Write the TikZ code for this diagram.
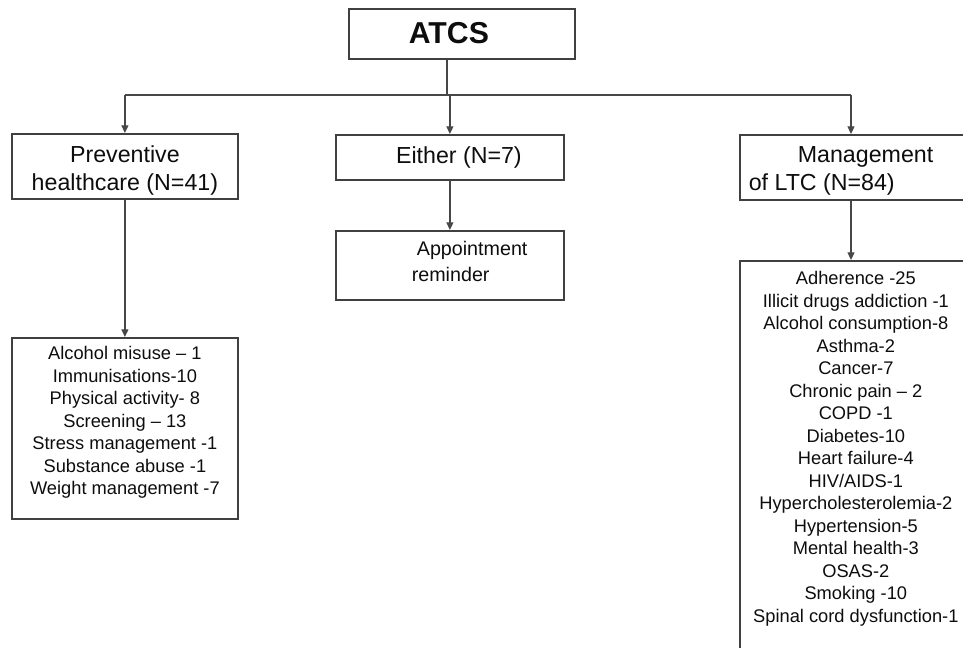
\documentclass[tikz,border=0pt]{standalone}
\usepackage{fontspec}
\setmainfont{Liberation Sans}
\usetikzlibrary{arrows.meta}
\tikzset{
  box/.style={draw=black!75, line width=1.2pt, anchor=north west, inner sep=0pt, text=black!95},
  hd/.style={font=\fontsize{16.5}{20}\selectfont},
  lst/.style={font=\fontsize{13}{16}\selectfont},
  link/.style={draw=black!72, line width=0.9pt},
  arr/.style={link, -{Triangle[length=5.5pt,width=5pt]}}
}
\begin{document}
\begin{tikzpicture}[x=0.025cm,y=-0.025cm]
\useasboundingbox (0,0) rectangle (963,648);
\clip (0,0) rectangle (963,648);
\node[box, minimum width=160.8pt, text height=24.9pt, text depth=10.7pt,
  font=\fontsize{21.5}{24}\selectfont\bfseries] (atcs) at (348,8) {ATCS\hspace*{18.5pt}};
\node[box, hd, minimum width=160.8pt, text height=20.6pt, text depth=25.6pt] (prev) at (11,133)
  {\begin{tabular}[t]{@{}c@{}}Preventive\\healthcare (N=41)\end{tabular}};
\node[box, hd, minimum width=162.2pt, text height=20.6pt, text depth=11.4pt] (either) at (335,134)
  {\hspace*{12.8pt}Either (N=7)};
\node[box, hd, minimum width=185.6pt, text height=19.9pt, text depth=26.3pt] (mgmt) at (739,134)
  {\begin{tabular}[t]{@{}l@{\hspace*{41.7pt}}}\hspace*{34.9pt}Management\\of LTC (N=84)\end{tabular}};
\node[box, font=\fontsize{14}{18}\selectfont, minimum width=162.2pt, text height=17.8pt, text depth=31.3pt] (appt) at (335,230)
  {\begin{tabular}[t]{@{\hspace*{28.1pt}}l@{}}\hspace*{3.6pt}Appointment\\reminder\end{tabular}};
\node[box, lst, minimum width=160.8pt, text height=15.6pt, text depth=113.1pt] (prevlist) at (11,337)
  {\begin{tabular}[t]{@{}c@{}}
  Alcohol misuse -- 1\\
  Immunisations-10\\
  Physical activity- 8\\
  Screening -- 13\\
  Stress management -1\\
  Substance abuse -1\\
  Weight management -7
  \end{tabular}};
\node[box, lst, minimum width=185.6pt, text height=17.1pt, text depth=295.9pt] (ltclist) at (739,260)
  {\begin{tabular}[t]{@{}c@{\hspace*{20.6pt}}}
  Adherence -25\\
  Illicit drugs addiction -1\\
  Alcohol consumption-8\\
  Asthma-2\\
  Cancer-7\\
  Chronic pain -- 2\\
  COPD -1\\
  Diabetes-10\\
  Heart failure-4\\
  HIV/AIDS-1\\
  Hypercholesterolemia-2\\
  Hypertension-5\\
  Mental health-3\\
  OSAS-2\\
  Smoking -10\\
  Spinal cord dysfunction-1
  \end{tabular}};

\coordinate (bus) at (447,95);
\coordinate (ltcx) at (851,0);
\draw[link] (atcs.south -| bus) -- (bus);
\draw[link] (prev.north |- bus) -- (ltcx |- bus);
\draw[arr] (prev.north |- bus) -- (prev.north);
\draw[arr] (either.north |- bus) -- (either.north);
\draw[arr] (ltcx |- bus) -- (ltcx |- mgmt.north);
\draw[arr] (either.south) -- (appt.north);
\draw[arr] (prev.south) -- (prevlist.north);
\draw[arr] (ltcx |- mgmt.south) -- (ltcx |- ltclist.north);
\end{tikzpicture}
\end{document}
